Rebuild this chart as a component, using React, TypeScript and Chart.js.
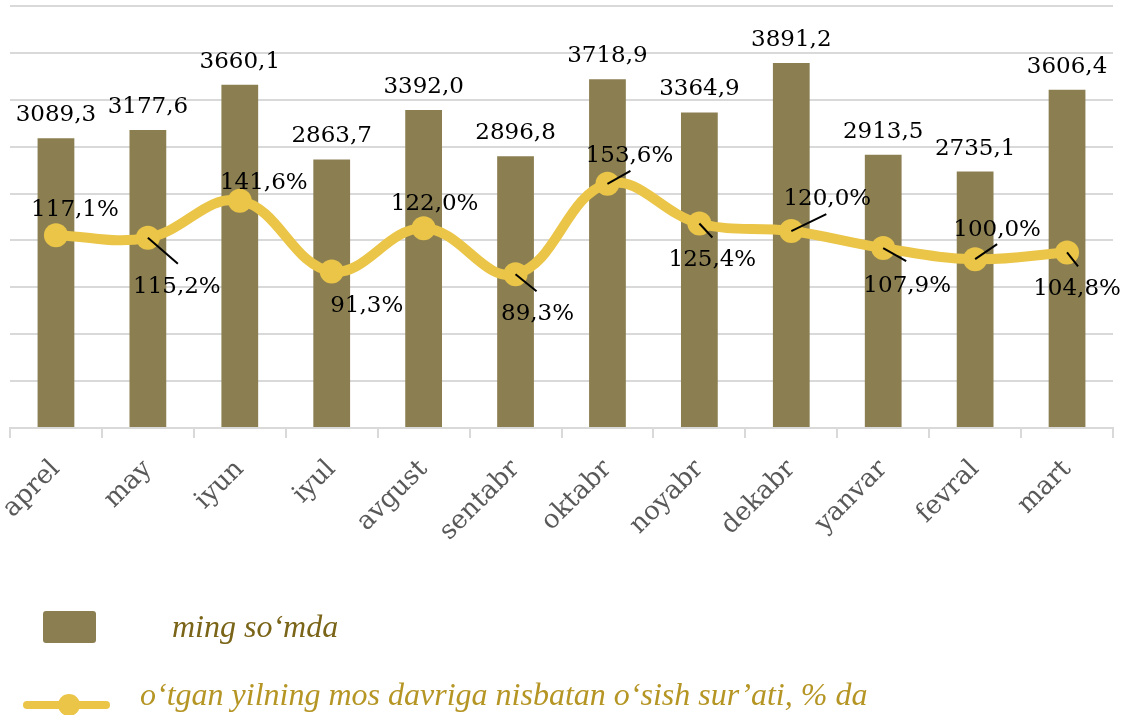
import React, { useEffect, useRef } from "react";
import { Chart, registerables } from "chart.js";

Chart.register(...registerables);

// ---- data ----
const categories = ["aprel", "may", "iyun", "iyul", "avgust", "sentabr", "oktabr", "noyabr", "dekabr", "yanvar", "fevral", "mart"];
const amountValues = [3089.3, 3177.6, 3660.1, 2863.7, 3392.0, 2896.8, 3718.9, 3364.9, 3891.2, 2913.5, 2735.1, 3606.4];
const growthValues = [117.1, 115.2, 141.6, 91.3, 122.0, 89.3, 153.6, 125.4, 120.0, 107.9, 100.0, 104.8];
const seriesLabels = ["ming so\u2018mda", "o\u2018tgan yilning mos davriga nisbatan o\u2018sish sur\u2019ati, % da"];

// ---- styling ----
const BAR_COLOR = "#8B7F52";
const LINE_COLOR = "#EAC548";
const GRID_COLOR = "#D9D9D9";
const LABEL_FONT = "23px 'DejaVu Serif'";
// label placement (relative to the point) for the growth series
const growthLabelOffsets: [number, number][] = [
  [19, -27], [29, 47], [24, -20], [35, 33], [11, -26], [22, 38],
  [22, -30], [13, 35], [36, -34], [24, 36], [22, -31], [10, 35],
];
const growthLeaderEnds: ([number, number] | null)[] = [
  null, [30, 26], null, null, null, [21, 17],
  [23, -13], [13, 14], [35, -17], [23, 13], [22, -15], [11, 14],
];

const fmt = (v: number) => v.toFixed(1).replace(".", ",");

const labelsPlugin = {
  id: "customLabels",
  afterDatasetsDraw(chart: any) {
    const ctx = chart.ctx;
    ctx.save();
    ctx.font = LABEL_FONT;
    ctx.fillStyle = "#000";
    ctx.textAlign = "center";
    ctx.textBaseline = "alphabetic";
    const barMeta = chart.getDatasetMeta(1);
    barMeta.data.forEach((el: any, i: number) => {
      ctx.fillText(fmt(amountValues[i]), el.x, el.y - 17);
    });
    const lineMeta = chart.getDatasetMeta(0);
    lineMeta.data.forEach((el: any, i: number) => {
      const lead = growthLeaderEnds[i];
      if (lead) {
        ctx.beginPath();
        ctx.strokeStyle = "#000";
        ctx.lineWidth = 2;
        ctx.moveTo(el.x, el.y);
        ctx.lineTo(el.x + lead[0], el.y + lead[1]);
        ctx.stroke();
      }
      const off = growthLabelOffsets[i];
      ctx.fillText(fmt(growthValues[i]) + "%", el.x + off[0], el.y + off[1] + 8);
    });
    ctx.restore();
  },
  afterDraw(chart: any) {
    const ctx = chart.ctx;
    ctx.save();
    // bar legend item
    ctx.fillStyle = BAR_COLOR;
    ctx.beginPath();
    (ctx as any).roundRect(43, 611, 53, 32, 3);
    ctx.fill();
    ctx.font = "italic 32px 'Liberation Serif'";
    ctx.textAlign = "left";
    ctx.textBaseline = "alphabetic";
    ctx.fillStyle = "#7A6417";
    ctx.fillText(seriesLabels[0], 172, 637);
    // line legend item
    ctx.strokeStyle = LINE_COLOR;
    ctx.lineWidth = 8;
    ctx.lineCap = "round";
    ctx.beginPath();
    ctx.moveTo(27, 705);
    ctx.lineTo(106, 705);
    ctx.stroke();
    ctx.fillStyle = LINE_COLOR;
    ctx.beginPath();
    ctx.arc(69, 705, 11, 0, Math.PI * 2);
    ctx.fill();
    ctx.fillStyle = "#B59524";
    ctx.fillText(seriesLabels[1], 140, 705);
    ctx.restore();
  },
};

export default function App() {
  const canvasRef = useRef<HTMLCanvasElement | null>(null);

  useEffect(() => {
    if (!canvasRef.current) return;
    const chart = new Chart(canvasRef.current, {
      type: "bar",
      data: {
        labels: categories,
        datasets: [
          {
            type: "line",
            label: seriesLabels[1],
            data: growthValues,
            yAxisID: "y1",
            borderColor: LINE_COLOR,
            backgroundColor: LINE_COLOR,
            borderWidth: 10,
            tension: 0.4,
            pointRadius: 12,
            pointBorderWidth: 0,
            pointBackgroundColor: LINE_COLOR,
            order: 0,
          } as any,
          {
            type: "bar",
            label: seriesLabels[0],
            data: amountValues,
            yAxisID: "y",
            backgroundColor: BAR_COLOR,
            barPercentage: 0.4,
            categoryPercentage: 1,
            order: 1,
          },
        ],
      },
      options: {
        animation: false,
        responsive: false,
        layout: { autoPadding: false, padding: { left: 10, right: 17, top: 6, bottom: 0 } },
        plugins: { legend: { display: false }, tooltip: { enabled: false } },
        scales: {
          x: {
            offset: true,
            border: { display: true, color: GRID_COLOR, width: 2 },
            grid: { drawOnChartArea: false, drawTicks: true, tickLength: 10, color: GRID_COLOR, lineWidth: 2, offset: true },
            ticks: {
              autoSkip: false,
              maxRotation: 45,
              minRotation: 45,
              padding: 16,
              color: "#595959",
              font: { family: "'DejaVu Serif'", size: 26 },
            },
            afterFit(scale: any) {
              scale.height = 715 - 428;
              scale.paddingLeft = 0;
              scale.paddingRight = 0;
            },
          },
          y: {
            min: 0,
            max: 4500,
            ticks: { display: false, stepSize: 500 },
            border: { display: false },
            grid: { color: GRID_COLOR, lineWidth: 2, drawTicks: false },
          },
          y1: {
            min: -20,
            max: 280,
            display: false,
          },
        },
      },
      plugins: [labelsPlugin],
    });
    return () => chart.destroy();
  }, []);

  return (
    <div style={{ position: "absolute", left: 0, top: 0, width: 1130, height: 715, background: "#fff" }}>
      <canvas ref={canvasRef} width={1130} height={715} style={{ width: 1130, height: 715 }} />
    </div>
  );
}
